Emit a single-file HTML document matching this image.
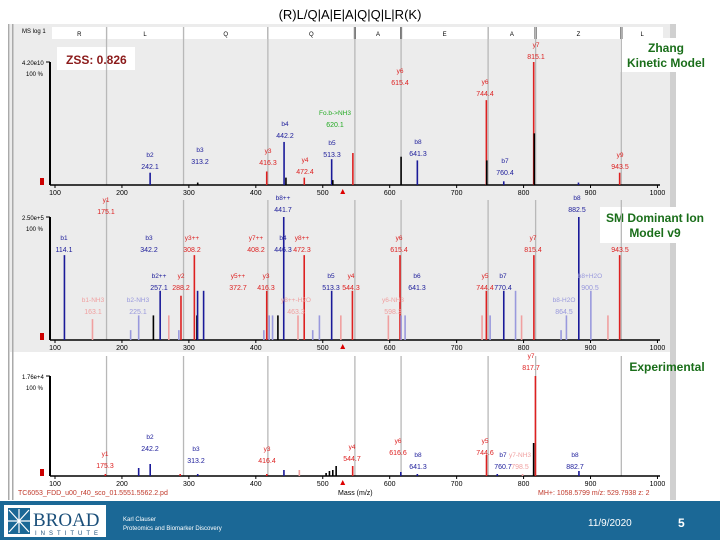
<!DOCTYPE html>
<html><head><meta charset="utf-8"><style>
body{margin:0;background:#fff;width:720px;height:540px;overflow:hidden;font-family:"Liberation Sans",sans-serif}
svg{display:block}
</style></head><body>
<svg id="s" width="720" height="540" xmlns="http://www.w3.org/2000/svg" font-family="Liberation Sans, sans-serif">
<text x="350" y="19" font-size="13" text-anchor="middle">(R)L/Q|A|E|A|Q|Q|L|R(K)</text>
<g>
<rect x="10" y="24" width="662" height="174" fill="#ececec"/>
<rect x="10" y="198" width="662" height="154" fill="#ececec"/>
<rect x="8" y="24" width="1.5" height="476" fill="#aaa"/><rect x="12" y="24" width="1.5" height="476" fill="#aaa"/>
<rect x="670" y="24" width="6" height="476" fill="#d0d0d0"/>
<rect x="52" y="27" width="611" height="12" fill="#fff"/>
</g>
<text x="22" y="33" font-size="6">MS log 1</text>
<rect x="57" y="47" width="78" height="23" fill="#fff"/>
<text x="66" y="64" font-size="12" font-weight="bold" fill="#8b1a1a">ZSS: 0.826</text>
<rect x="620" y="38" width="92" height="34" fill="#fff"/>
<text x="666" y="52" font-size="12" font-weight="bold" fill="#1a6e1a" text-anchor="middle"><tspan x="666">Zhang</tspan><tspan x="666" dy="15">Kinetic Model</tspan></text>
<rect x="600" y="207" width="112" height="36" fill="#fff"/>
<text x="655" y="222" font-size="12" font-weight="bold" fill="#1a6e1a" text-anchor="middle"><tspan x="655">SM Dominant Ion</tspan><tspan x="655" dy="15">Model v9</tspan></text>
<text x="667" y="371" font-size="12" font-weight="bold" fill="#1a6e1a" text-anchor="middle">Experimental</text>
<text x="18" y="495" font-size="7" fill="#c0392b">TC6053_FDD_u00_r40_sco_01.5551.5562.2.pd</text>
<text x="338" y="495" font-size="7">Mass (m/z)</text>
<text x="538" y="495" font-size="7" fill="#c0392b">MH+: 1058.5799  m/z: 529.7938  z: 2</text>
<g>
<rect x="0" y="501" width="720" height="39" fill="#1b6896"/>
<rect x="4" y="505" width="102" height="32" fill="#fff"/>
<rect x="8" y="508" width="22" height="26" fill="#1b6896"/>
<path d="M9 510 L29 532 M29 510 L9 532 M19 509 L19 533 M8 521 L30 521" stroke="#fff" stroke-width="1.2"/>
<text x="33" y="526" font-family="Liberation Serif, serif" font-size="19" fill="#1b4f7a">BROAD</text>
<text x="35" y="535" font-size="6" fill="#1b4f7a" letter-spacing="4">INSTITUTE</text>
<text x="123" y="521" font-size="6" fill="#fff">Karl Clauser</text>
<text x="123" y="530" font-size="6" fill="#fff">Proteomics and Biomarker Discovery</text>
<text x="588" y="526" font-size="10" fill="#fff">11/9/2020</text>
<text x="678" y="527" font-size="12" font-weight="bold" fill="#fff">5</text>
</g>
<g id="plots"></g>
</svg>
<script>
const ticks=[100,200,300,400,500,600,700,800,900,1000];
const gridMz=[177,292,418,548,617,747,818,946];
const seqLetters=["R","L","Q","Q","A","E","A","Z","L"];
const precursorMz=[529.8];
const p1Mz=[242.1,313.2,416.3,442.2,445,472.4,513.3,515,545,617,641.3,744.4,745,770.4,815.1,816,882,943.5];
const p1Int=[10,2,11,35,6,6,21,4,26,23,20,69,20,3,100,42,2,10];
const p1Col=["b","k","r","b","k","r","b","k","r","k","b","r","k","b","r","k","b","r"];
const p2Mz=[114.1,156,213,225,247,257.1,270,285,288.2,308.2,312,313,322,412,416.3,420,425,433,441.7,463,472.3,485,495,513.3,527,544.3,598,615.4,617,623,738,744.4,750,770.4,788,797,815.4,856,864,882.5,900.5,926,943.5];
const p2Int=[69,17,8,20,20,40,20,8,36,69,20,40,40,8,40,20,20,20,100,20,69,8,20,40,20,40,20,69,20,20,20,40,20,40,40,20,69,8,20,100,40,20,69];
const p2Col=["b","p","l","l","k","b","p","l","r","r","k","b","b","l","r","l","l","k","b","p","r","l","l","b","p","r","p","r","l","l","p","r","l","b","l","p","r","l","l","b","l","p","r"];
const p3Mz=[175.3,225,242.2,287,313.2,416.4,442,465,505,510,515,520,544.7,616.6,641.3,744.6,760.7,798.5,815,817.7,882.7];
const p3Int=[2,8,12,2,2,2,6,6,3,5,6,10,10,4,2,21,2,2,33,100,5];
const p3Col=["r","b","b","r","b","r","b","p","k","k","k","k","r","b","b","r","b","p","k","r","b"];
const COLS={r:"#dd2020",b:"#1a1a99",k:"#000",p:"#f0a0a0",l:"#9999dd"};
const X=m=>55+(m-100)*0.6694;
const NS="http://www.w3.org/2000/svg";
const root=document.getElementById('plots');
function mk(tag,attrs,parent){const e=document.createElementNS(NS,tag);for(const k in attrs)e.setAttribute(k,attrs[k]);(parent||root).appendChild(e);return e;}
function txt(x,y,s,col,size,anchor){const t=mk('text',{x:x,y:y,'font-size':size||7,fill:col||'#000','text-anchor':anchor||'middle'});t.textContent=s;


return t;}
for(let i=0;i<seqLetters.length;i++){const a=i==0?52:X(gridMz[i-1]);const b=i==seqLetters.length-1?663:X(gridMz[i]);
const t=txt((a+b)/2,36,seqLetters[i],'#000',6);
}
gridMz.forEach((m,i)=>{const l=mk('line',{x1:X(m),x2:X(m),y1:27,y2:39,stroke:'#000','stroke-width':[3,4,6,7].includes(i)?2:1});

});
function panel(base,top,mz,inten,col,name,topLabel,gridTop){
 gridMz.forEach(m=>{const g=mk('line',{x1:X(m),x2:X(m),y1:gridTop,y2:base,stroke:'#b8b8b8','stroke-width':1.3});
 
 });
 const ax=mk('line',{x1:50,x2:50,y1:top,y2:base,stroke:'#000','stroke-width':2});
 
 
 const xa=mk('line',{x1:50,x2:660,y1:base,y2:base,stroke:'#000','stroke-width':1.5});
 
 
 ticks.forEach(t=>{mk('line',{x1:X(t),x2:X(t),y1:base,y2:base+3,stroke:'#000'});
 const l=txt(X(t),base+10,String(t),'#000',7);});
 const px=X(precursorMz[0]);
 const tri=mk('path',{d:`M${px-2.5} ${base+9} L${px+2.5} ${base+9} L${px} ${base+4} Z`,fill:'#d00'});
 
 
 const tl=txt(22,top+3,topLabel,'#000',6,'start');
 const pl=txt(26,top+14,'100 %','#000',6,'start');
 mk('line',{x1:46,x2:50,y1:top,y2:top,stroke:'#000'});
 mk('rect',{x:40,y:base-7,width:4,height:7,fill:'#c00'});
 for(let i=0;i<mz.length;i++){const h=(base-top)*inten[i]/100;
  const r=mk('line',{x1:X(mz[i]),x2:X(mz[i]),y1:base,y2:base-h,stroke:COLS[col[i]],'stroke-width':1.6});
  
  }
}
panel(185,62,p1Mz,p1Int,p1Col,'zhang',"4.20e10",27);
panel(340,217,p2Mz,p2Int,p2Col,'sm',"2.50e+5",200);
panel(476,376,p3Mz,p3Int,p3Col,'exp',"1.76e+4",356);
const R="#dd2020",B="#1a1a99",G="#22aa22",P="#f0a0a0",L="#9999dd";
[[150,157,"b2","242.1",B],[200,152,"b3","313.2",B],[268,153,"y3","416.3",R],[305,162,"y4","472.4",R],[285,126,"b4","442.2",B],[332,145,"b5","513.3",B],[418,144,"b8","641.3",B],[400,73,"y6","615.4",R],[485,84,"y6","744.4",R],[505,163,"b7","760.4",B],[536,47,"y7","815.1",R],[620,157,"y9","943.5",R],[335,115,"Fo.b->NH3","620.1",G],
[106,202,"y1","175.1",R],[64,240,"b1","114.1",B],[149,240,"b3","342.2",B],[283,200,"b8++","441.7",B],[577,200,"b8","882.5",B],[192,240,"y3++","308.2",R],[256,240,"y7++","408.2",R],[283,240,"b4","446.3",B],[302,240,"y8++","472.3",R],[399,240,"y6","615.4",R],[533,240,"y7","815.4",R],[620,240,"","943.5",R],
[159,278,"b2++","257.1",B],[181,278,"y2","288.2",R],[238,278,"y5++","372.7",R],[266,278,"y3","416.3",R],[331,278,"b5","513.3",B],[351,278,"y4","544.3",R],[417,278,"b6","641.3",B],[485,278,"y5","744.4",R],[503,278,"b7","770.4",B],[590,278,"b8+H2O","900.5",L],
[93,302,"b1-NH3","163.1",P],[138,302,"b2-NH3","225.1",L],[296,302,"y8++-H2O","463.3",P],[393,302,"y6-NH3","598.3",P],[564,302,"b8-H2O","864.5",L],
[531,358,"y7","817.7",R],[150,439,"b2","242.2",B],[196,451,"b3","313.2",B],[267,451,"y3","416.4",R],[105,456,"y1","175.3",R],[352,449,"y4","544.7",R],[398,443,"y6","616.6",R],[418,457,"b8","641.3",B],[485,443,"y5","744.6",R],[503,457,"b7","760.7",B],[520,457,"y7-NH3","798.5",P],[575,457,"b8","882.7",B]
].forEach(a=>{txt(a[0],a[1],a[2],a[4],6.5);txt(a[0],a[1]+12,a[3],a[4],7);});
</script>
</body></html>
